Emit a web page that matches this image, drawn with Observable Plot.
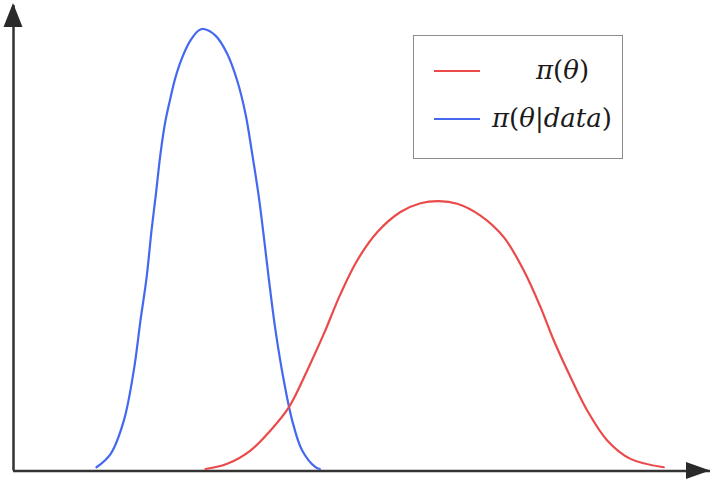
<!DOCTYPE html>
<html>
<head>
<meta charset="utf-8">
<script src="https://cdn.jsdelivr.net/npm/d3@7"></script>
<script src="https://cdn.jsdelivr.net/npm/@observablehq/plot@0.6"></script>
<style>
  html, body { margin: 0; padding: 0; background: #fff; }
  #wrap { position: relative; width: 714px; height: 483px; }
  #legend { position: absolute; left: 413px; top: 35px; width: 208px; height: 122px;
            border: 1px solid #8c8c8c; background: #fff; font-family: "DejaVu Serif", serif; }
  .key { position: absolute; left: 20px; width: 46px; height: 0; border-top: 2.5px solid; }
  .lab { position: absolute; font-size: 26px; color: #1a1a1a; white-space: nowrap; line-height: 1; }
  .lab i { font-style: italic; }
</style>
</head>
<body>
<div id="wrap"></div>
<script>
// Posterior pi(theta|data) — blue curve
const postTheta = [1.191, 1.392, 1.583, 1.726, 1.822, 1.908, 1.980, 2.044, 2.109, 2.181, 2.253, 2.324, 2.420, 2.539, 2.659, 2.730, 2.898, 3.066, 3.209, 3.329, 3.425, 3.520, 3.592, 3.663, 3.759, 3.878, 3.999, 4.142, 4.333, 4.395];
const postDens  = [0.004, 0.034, 0.110, 0.224, 0.338, 0.433, 0.542, 0.626, 0.717, 0.792, 0.844, 0.890, 0.935, 0.974, 0.997, 1.000, 0.985, 0.944, 0.883, 0.807, 0.716, 0.618, 0.527, 0.432, 0.315, 0.201, 0.110, 0.042, 0.004, 0.0];
// Prior pi(theta) — red curve
const priorTheta = [2.755, 3.066, 3.400, 3.687, 3.950, 4.214, 4.452, 4.692, 4.931, 5.218, 5.552, 5.839, 6.102, 6.366, 6.700, 7.034, 7.321, 7.561, 7.752, 7.991, 8.231, 8.518, 8.852, 9.330];
const priorDens  = [0.0, 0.012, 0.042, 0.0875, 0.140, 0.224, 0.307, 0.398, 0.474, 0.538, 0.584, 0.604, 0.609, 0.603, 0.576, 0.527, 0.451, 0.368, 0.292, 0.209, 0.133, 0.065, 0.023, 0.004];
const xDomain = [0, 10];
const yDomain = [0, 1.058];

const post = postTheta.map((t, i) => ({theta: t, d: postDens[i]}));
const prior = priorTheta.map((t, i) => ({theta: t, d: priorDens[i]}));

const red = "#eb4a4a", blue = "#4468f0", axisCol = "#333";

const plot = Plot.plot({
  width: 714, height: 483,
  marginLeft: 13, marginRight: 4, marginTop: 3, marginBottom: 14.5,
  x: {domain: xDomain, axis: null},
  y: {domain: yDomain, axis: null},
  style: {background: "#fff"},
  marks: [
    Plot.ruleX([xDomain[0]], {y1: yDomain[0], y2: yDomain[1], stroke: axisCol, strokeWidth: 2.5, dy: 2}),
    Plot.ruleY([yDomain[0]], {x1: xDomain[0], x2: xDomain[1], stroke: axisCol, strokeWidth: 2.5, dy: 2}),
    Plot.line(post, {x: "theta", y: "d", stroke: blue, strokeWidth: 2.2, curve: "catmull-rom"}),
    Plot.line(prior, {x: "theta", y: "d", stroke: red, strokeWidth: 2.2, curve: "catmull-rom"})
  ]
});

// arrowheads placed through the plot's scales
const sx = plot.scale("x"), sy = plot.scale("y");
const svg = d3.select(plot);
const x0 = sx.apply(xDomain[0]), x1 = sx.apply(xDomain[1]);
const y0 = sy.apply(yDomain[0]) + 2, y1 = sy.apply(yDomain[1]);
svg.append("path")
  .attr("d", `M${x0},${y1} L${x0 - 9.5},${y1 + 24} L${x0 + 9.5},${y1 + 24} Z`)
  .attr("fill", "#2a2a2a");
svg.append("path")
  .attr("d", `M${x1},${y0} L${x1 - 24},${y0 - 8.5} L${x1 - 24},${y0 + 8.5} Z`)
  .attr("fill", "#2a2a2a");

const wrap = document.getElementById("wrap");
wrap.appendChild(plot);

const legend = document.createElement("div");
legend.id = "legend";
legend.innerHTML = `
  <div class="key" style="top:34px;border-color:${red}"></div>
  <div class="lab" style="left:122px;top:21px"><i>π</i>(<i>θ</i>)</div>
  <div class="key" style="top:82px;border-color:${blue}"></div>
  <div class="lab" style="left:78px;top:69px"><i>π</i>(<i>θ</i>|<i>data</i>)</div>`;
wrap.appendChild(legend);
</script>
</body>
</html>
